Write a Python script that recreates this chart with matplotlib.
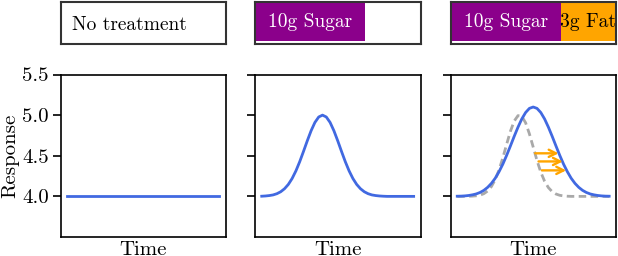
import numpy as np
import matplotlib
matplotlib.use('Agg')
import matplotlib.pyplot as plt

plt.rcParams['font.family'] = ['cmr10', 'DejaVu Serif']
plt.rcParams['axes.formatter.use_mathtext'] = True
plt.rcParams['mathtext.fontset'] = 'cm'

# sample times (arbitrary units, no tick labels on the chart)
time = np.linspace(0, 10, 41)

# panel 1: no treatment, flat response
resp_none = [4.0] * 41

# panel 2: 10g sugar
resp_sugar = [4.002, 4.005, 4.010, 4.018, 4.033, 4.057, 4.094, 4.147, 4.220,
              4.314, 4.427, 4.554, 4.685, 4.808, 4.910, 4.977, 5.000, 4.977,
              4.910, 4.808, 4.685, 4.554, 4.427, 4.314, 4.220, 4.147, 4.094,
              4.057, 4.033, 4.018, 4.010, 4.005, 4.002, 4.000, 4.000, 4.000,
              4.000, 4.000, 4.000, 4.000, 4.000]

# panel 3: dashed reference (sugar alone) and sugar + fat
resp_ref = [4.000, 4.000, 4.000, 4.001, 4.003, 4.007, 4.015, 4.033, 4.066,
            4.121, 4.206, 4.325, 4.474, 4.640, 4.801, 4.927, 4.994, 4.986,
            4.906, 4.770, 4.607, 4.442, 4.298, 4.186, 4.108, 4.058, 4.029,
            4.013, 4.006, 4.002, 4.000, 4.000, 4.000, 4.000, 4.000, 4.000,
            4.000, 4.000, 4.000, 4.000, 4.000]
resp_sugar_fat = [4.002, 4.003, 4.006, 4.011, 4.019, 4.030, 4.048, 4.074, 4.111,
                  4.160, 4.223, 4.303, 4.396, 4.504, 4.620, 4.739, 4.852, 4.953,
                  5.032, 5.083, 5.100, 5.083, 5.032, 4.953, 4.852, 4.739, 4.620,
                  4.504, 4.396, 4.303, 4.223, 4.160, 4.111, 4.074, 4.048, 4.030,
                  4.019, 4.011, 4.006, 4.003, 4.002]

# shift arrows (from reference curve to new curve)
arrow_y = [4.53, 4.43, 4.32]
arrow_start = [5.13, 5.35, 5.57]
arrow_end = [6.67, 6.95, 7.17]

# treatment bars (fraction of box width)
sugar_frac = 0.665

blue = 'royalblue'
purple = 'darkmagenta'
orange = 'orange'
fs = 15

fig = plt.figure(figsize=(6.18, 2.56), dpi=100)

lefts = [60.7 / 618, 255.2 / 618, 450.7 / 618]
w = 165.3 / 618
box_b, box_h = 1 - 43.5 / 256, 41.5 / 256
ax_b, ax_h = 1 - 237 / 256, 162.5 / 256

# top boxes
boxes = [fig.add_axes([l, box_b, w, box_h]) for l in lefts]
for b in boxes:
    b.set_xlim(0, 1)
    b.set_ylim(0, 1)
    b.set_xticks([])
    b.set_yticks([])
    for s in b.spines.values():
        s.set_color('#333333')
        s.set_linewidth(1.5)
        s.set_zorder(5)

boxes[0].text(0.067, 0.45, 'No treatment', fontsize=14, va='center', ha='left')

boxes[1].barh(0.53, sugar_frac, height=0.94, left=0, color=purple)
boxes[1].text(sugar_frac / 2, 0.53, '10g Sugar', fontsize=14, color='white',
              va='center', ha='center')

boxes[2].barh(0.53, sugar_frac, height=0.94, left=0, color=purple)
boxes[2].barh(0.53, 1 - sugar_frac, height=0.94, left=sugar_frac, color=orange)
boxes[2].text(sugar_frac / 2, 0.53, '10g Sugar', fontsize=14, color='white',
              va='center', ha='center')
boxes[2].text((1 + sugar_frac) / 2, 0.53, '3g Fat', fontsize=14, color='black',
              va='center', ha='center', clip_on=True)

# main panels
axs = [fig.add_axes([l, ax_b, w, ax_h]) for l in lefts]
axs[0].plot(time, resp_none, color=blue, lw=2)
axs[1].plot(time, resp_sugar, color=blue, lw=2)
axs[2].plot(time, resp_ref, color='darkgray', lw=2, ls=(0, (2.7, 1.6)))
axs[2].plot(time, resp_sugar_fat, color=blue, lw=2)
for y, x0, x1 in zip(arrow_y, arrow_start, arrow_end):
    axs[2].annotate('', xy=(x1, y), xytext=(x0, y),
                    arrowprops=dict(arrowstyle='->', color=orange, lw=1.7,
                                    shrinkA=0, shrinkB=0, mutation_scale=13))

for i, ax in enumerate(axs):
    ax.set_xlim(-0.43, 10.45)
    ax.set_ylim(3.5, 5.5)
    ax.set_yticks([4.0, 4.5, 5.0, 5.5])
    ax.set_xticks([])
    ax.set_xlabel('Time', fontsize=fs, labelpad=3)
    ax.tick_params(axis='y', length=5.5, width=1.2, labelsize=fs, pad=3)
    for s in ax.spines.values():
        s.set_linewidth(1.2)
    if i == 0:
        ax.set_yticklabels(['4.0', '4.5', '5.0', '5.5'])
        ax.set_ylabel('Response', fontsize=fs, labelpad=2)
    else:
        ax.set_yticklabels([])

fig.savefig('out.png', dpi=100)
